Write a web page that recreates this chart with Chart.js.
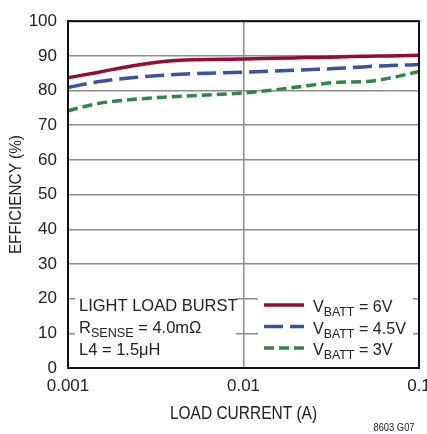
<!DOCTYPE html>
<html>
<head>
<meta charset="utf-8">
<script src="https://cdn.jsdelivr.net/npm/chart.js@4.4.0/dist/chart.umd.min.js"></script>
<style>
    html, body { margin: 0; padding: 0; background: #fff; overflow: hidden; }
    #wrap { width: 427px; height: 434px; overflow: hidden; position: relative; }
    #wrap canvas { position: absolute; left: 0; top: 0; }
</style>
</head>
<body>
<div id="wrap"><canvas id="efficiency" width="440" height="434"></canvas></div>
<script>
// load current (A), shared by all three curves
let load_current = [0.001, 0.0015, 0.0023, 0.0035, 0.0054, 0.01, 0.015, 0.023, 0.035, 0.05, 0.068, 0.1];

// efficiency (%)
let eff_6v   = [83.7, 85.3, 87.1, 88.4, 88.9, 89.1, 89.3, 89.5, 89.7, 89.9, 90.0, 90.2];
let eff_4v5  = [80.9, 82.6, 83.7, 84.4, 84.9, 85.3, 85.6, 86.0, 86.4, 86.9, 87.2, 87.5];
let eff_3v   = [74.2, 76.3, 77.4, 78.1, 78.6, 79.3, 80.2, 81.4, 82.4, 82.6, 83.6, 85.5];

let x_ticks = [0.001, 0.01, 0.1];
let x_tick_labels = ['0.001', '0.01', '0.1'];
let y_ticks = [0, 10, 20, 30, 40, 50, 60, 70, 80, 90, 100];

let series_names = ['6V', '4.5V', '3V'];
let note_lines = ['LIGHT LOAD BURST', 'R|SENSE| = 4.0mΩ', 'L4 = 1.5μH'];

const FONT = '"Liberation Sans", Arial, sans-serif';
const COLORS = ['#960c30', '#3b51a3', '#2f8745'];
const DASHES = [[], [19, 7], [10, 5]];


function toPoints(values) {
    let pts = [];
    for (let i = 0; i < load_current.length; ++i) {
        pts.push({x: load_current[i], y: values[i]});
    }
    return pts;
}


// text with a subscript part marked by |...|, squeezed a bit to look condensed
function drawSubText(ctx, text, x, y, size, squeeze) {
    let parts = text.split('|');
    ctx.save();
    ctx.translate(x, y);
    ctx.scale(squeeze, 1);
    let cx = 0;
    for (let i = 0; i < parts.length; ++i) {
        let sub = (i % 2 === 1);
        ctx.font = (sub ? Math.round(size * 0.76) : size) + 'px ' + FONT;
        ctx.fillText(parts[i], cx, sub ? 4 : 0);
        cx += ctx.measureText(parts[i]).width;
    }
    ctx.restore();
}


let overlay = {
    id: 'overlay',
    afterDatasetsDraw: function (chart) {
        let ctx = chart.ctx;
        let xs = chart.scales.x;
        let ys = chart.scales.y;
        let box_top = ys.getPixelForValue(26);
        let box_h = ys.bottom - box_top - 2;
        ctx.save();

        // white boxes that cut the grid
        ctx.fillStyle = '#fff';
        ctx.fillRect(xs.left + 7, box_top, 161, box_h);
        ctx.fillRect(258, box_top, 155, box_h);

        ctx.fillStyle = '#222';
        ctx.textBaseline = 'alphabetic';
        ctx.textAlign = 'left';
        for (let i = 0; i < note_lines.length; ++i) {
            drawSubText(ctx, note_lines[i], xs.left + 11, 311 + i * 22, 17, 0.97);
        }

        let sets = chart.data.datasets;
        for (let i = 0; i < sets.length; ++i) {
            let ly = 305 + i * 21.5;
            ctx.strokeStyle = sets[i].borderColor;
            ctx.lineWidth = sets[i].borderWidth;
            ctx.setLineDash(sets[i].borderDash);
            ctx.beginPath();
            ctx.moveTo(264, ly);
            ctx.lineTo(304, ly);
            ctx.stroke();
            ctx.setLineDash([]);
            ctx.fillStyle = '#222';
            drawSubText(ctx, 'V|BATT| = ' + series_names[i], 313, ly + 7, 17, 0.95);
        }

        // axis titles
        ctx.fillStyle = '#222';
        ctx.textAlign = 'center';
        ctx.save();
        ctx.translate((xs.left + xs.right) / 2, 419);
        ctx.scale(0.86, 1);
        ctx.font = '18px ' + FONT;
        ctx.fillText('LOAD CURRENT (A)', 0, 0);
        ctx.restore();

        ctx.save();
        ctx.translate(21, (ys.top + ys.bottom) / 2);
        ctx.rotate(-Math.PI / 2);
        ctx.scale(0.9, 1);
        ctx.font = '17px ' + FONT;
        ctx.fillText('EFFICIENCY (%)', 0, 0);
        ctx.restore();

        ctx.save();
        ctx.translate(394, 431);
        ctx.scale(0.85, 1);
        ctx.font = '11px ' + FONT;
        ctx.fillText('8603 G07', 0, 0);
        ctx.restore();

        ctx.restore();
    }
};


window.addEventListener('load', function () {
    let values = [eff_6v, eff_4v5, eff_3v];
    let datasets = [];
    for (let i = 0; i < values.length; ++i) {
        datasets.push({
            label: 'VBATT = ' + series_names[i],
            data: toPoints(values[i]),
            borderColor: COLORS[i],
            borderWidth: 3.5,
            borderDash: DASHES[i],
            pointRadius: 0,
            cubicInterpolationMode: 'monotone',
            fill: false
        });
    }

    let ctx = document.getElementById('efficiency').getContext('2d');
    let chart = new Chart(ctx, {
        type: 'line',
        data: {datasets: datasets},
        options: {
            responsive: false,
            animation: false,
            layout: {padding: {left: 0, right: 21, top: 16, bottom: 0}},
            plugins: {legend: {display: false}, tooltip: {enabled: false}},
            scales: {
                x: {
                    type: 'logarithmic',
                    min: 0.001,
                    max: 0.1,
                    afterBuildTicks: function (scale) {
                        scale.ticks = x_ticks.map(function (v) { return {value: v}; });
                    },
                    afterFit: function (scale) { scale.height = 66; },
                    ticks: {
                        autoSkip: false,
                        maxRotation: 0,
                        padding: 8,
                        color: '#222',
                        font: {family: FONT, size: 17},
                        callback: function (v) { return x_tick_labels[x_ticks.indexOf(v)]; }
                    },
                    grid: {color: '#8c8c8c', lineWidth: 1.5, drawTicks: false},
                    border: {color: '#111', width: 2}
                },
                y: {
                    min: 0,
                    max: 100,
                    afterBuildTicks: function (scale) {
                        scale.ticks = y_ticks.map(function (v) { return {value: v}; });
                    },
                    afterFit: function (scale) { scale.width = 68; },
                    ticks: {
                        padding: 11,
                        color: '#222',
                        font: {family: FONT, size: 17}
                    },
                    grid: {color: '#8c8c8c', lineWidth: 1.5, drawTicks: false},
                    border: {color: '#111', width: 2}
                }
            }
        },
        plugins: [overlay, {
            id: 'frame',
            afterDraw: function (chart) {
                let a = chart.chartArea;
                let c = chart.ctx;
                c.save();
                c.strokeStyle = '#111';
                c.lineWidth = 2;
                c.strokeRect(a.left, a.top, a.right - a.left, a.bottom - a.top);
                c.restore();
            }
        }]
    });
});
</script>
</body>
</html>
